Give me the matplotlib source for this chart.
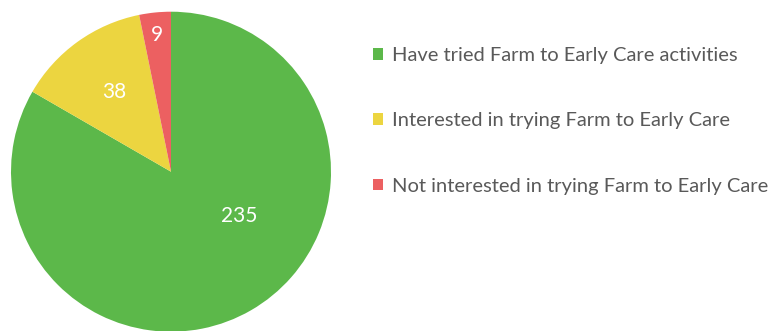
import matplotlib
matplotlib.use("Agg")
import numpy as np
import matplotlib.pyplot as plt
from matplotlib.patches import Patch

categories = [
    "Have tried Farm to Early Care activities",
    "Interested in trying Farm to Early Care",
    "Not interested in trying Farm to Early Care",
]
counts = [235, 38, 9]
colors = ["#5cb84a", "#ecd540", "#ec6061"]

# label placement inside each wedge: radius fraction and angle nudge (deg)
label_radius = [0.51, 0.61, 0.86]
label_shift = [27, 0, 0]

plt.rcParams["font.family"] = ["Lato", "DejaVu Sans"]

fig = plt.figure(figsize=(7.71, 3.31), dpi=100)
ax = fig.add_axes([11 / 771, -0.7 / 331, 320 / 771, 320 / 331])

wedges, _ = ax.pie(counts, colors=colors, startangle=90, counterclock=False,
                   radius=1, wedgeprops=dict(linewidth=0))
ax.set_xlim(-1, 1)
ax.set_ylim(-1, 1)
ax.set_aspect("equal")
ax.axis("off")

for w, n, r, s in zip(wedges, counts, label_radius, label_shift):
    mid = np.deg2rad((w.theta1 + w.theta2) / 2 + s)
    ax.text(r * np.cos(mid), r * np.sin(mid), str(n), color="white",
            fontsize=15, ha="center", va="center")

handles = [Patch(facecolor=c, edgecolor="none") for c in colors]
fig.legend(handles, categories, loc="upper left", bbox_to_anchor=(373 / 771, 1 - 47 / 331),
           frameon=False, fontsize=14.5, labelcolor="#595959",
           handlelength=0.52, handleheight=0.52, handletextpad=0.4,
           labelspacing=2.4, borderaxespad=0, borderpad=0)

fig.savefig("out.png", dpi=100)
